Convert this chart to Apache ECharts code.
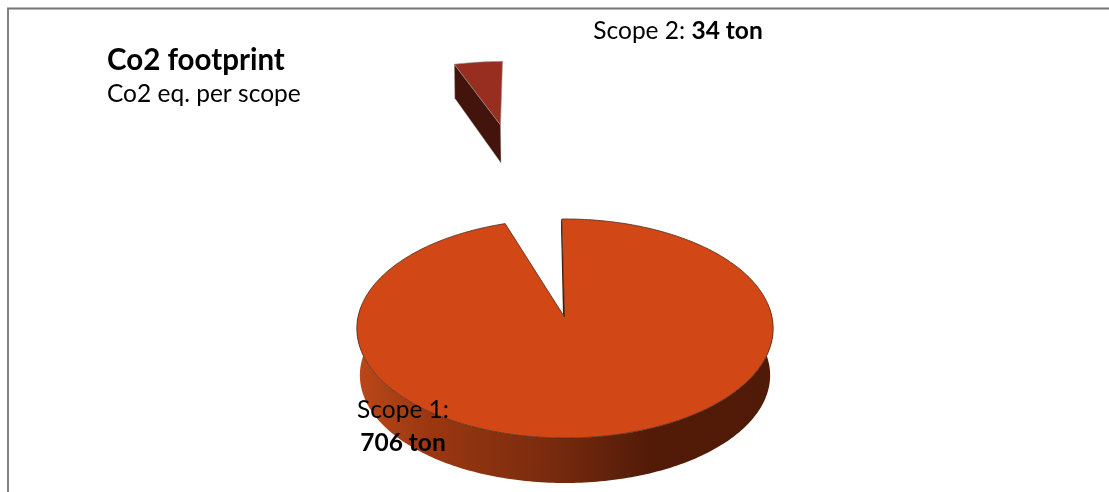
<!DOCTYPE html>
<html><head><meta charset="utf-8">
<style>html,body{margin:0;padding:0;background:#fff}#c{width:1109px;height:492px}</style>
<script src="https://cdn.jsdelivr.net/npm/echarts@6/dist/echarts.min.js"></script>
</head><body><div id="c"></div>
<script>
var categories = ['Scope 1', 'Scope 2'];
var values = [706, 34];
var unit = 'ton';
var titleText = 'Co2 footprint';
var subtitleText = 'Co2 eq. per scope';

var FONT = 'Lato, "Open Sans", sans-serif';
var START_DEG = -1;         // Scope 1 starts here, clockwise from 12 o'clock
var SLICE2_END_DEG = -2;    // Scope 2 ends here
var NOTCH_DEG = 1;          // extra opening left by the exploded slice
var PERSP = 0.105;
// projection of a disc angle onto the page
function proj(g, deg) {
  var t = deg * Math.PI / 180, u = Math.sin(t), v = Math.cos(t), s = 1 / (1 + PERSP * v);
  return [g.cx + g.rx * u * s + (g.skew || 0) * v * s, g.cy - g.ry * v * s];
}
var total = values.reduce(function (a, b) { return a + b; }, 0);

function renderScope1(api) {
  var top = { cx: 565, cy: 317, rx: 207, ry: 108.3 };
  var low = { cx: 565, cy: 364, rx: 204, ry: 106.5 };
  var from = START_DEG, to = START_DEG + api.value(0) / total * 360 - NOTCH_DEG;
  var apex = [top.cx - 0.5, top.cy];
  var face = [apex], wall = [], d;
  for (d = from; d <= to + 1e-6; d += 1) face.push(proj(top, d));
  face.push(proj(top, to));
  var upper = [], lower = [];
  for (d = 84; d <= 276; d += 1) { upper.push(proj(top, d)); lower.push(proj(low, d)); }
  wall = upper.concat(lower.reverse());
  var rimA = proj(top, from);
  return [
    { type: 'polygon', shape: { points: wall }, style: {
        fill: new echarts.graphic.LinearGradient(0, 0, 1, 0, [
          { offset: 0, color: '#bb4719' }, { offset: 0.18, color: '#9a3710' },
          { offset: 0.45, color: '#7b2c0e' }, { offset: 0.7, color: '#521b08' }, { offset: 1, color: '#4f1a07' }]),
        stroke: null } },
    { type: 'polygon', shape: { points: [[apex[0] + 0.5, apex[1] + 2], rimA, [rimA[0] - 0.8, rimA[1] + 3], [apex[0] - 1.5, apex[1] - 3]] },
      style: { fill: '#3d1406' } },
    { type: 'polygon', shape: { points: face }, style: { fill: '#d14715', stroke: '#4f2c1c', lineWidth: 0.8 } }
  ];
}
function renderScope2(api) {
  var g = { cx: 500.5, cy: 125, rx: 168.7 * 1.1, ry: 64 * 1.1, skew: 7.9 * 1.1 };
  var from = SLICE2_END_DEG - api.value(0) / total * 360, to = SLICE2_END_DEG;
  var apex = [g.cx, g.cy], face = [apex], d;
  for (d = from; d < to; d += 1.5) face.push(proj(g, d));
  face.push(proj(g, to));
  var rimL = face[1];
  return [
    { type: 'polygon', shape: { points: [rimL, apex, [apex[0] + 0.5, apex[1] + 38], [rimL[0] + 0.5, rimL[1] + 34]] },
      style: { fill: '#43140c', stroke: '#a8a8a8', lineWidth: 0.4 } },
    { type: 'polygon', shape: { points: face }, style: { fill: '#972e20', stroke: '#8f8f8f', lineWidth: 0.6 } }
  ];
}
function label(i, x, y, sep) {
  return { type: 'text', z2: 20, style: {
    x: x, y: y, align: 'center', verticalAlign: 'middle', fill: '#000',
    text: '{a|' + categories[i] + ':' + sep + '}{b|' + values[i] + ' ' + unit + '}',
    rich: { a: { font: '24.5px ' + FONT, fill: '#000', lineHeight: 33 }, b: { font: 'bold 24.5px ' + FONT, fill: '#000', lineHeight: 33 } }
  } };
}
var chart = echarts.init(document.getElementById('c'), null, { renderer: 'canvas' });
chart.setOption({
  animation: false,
  backgroundColor: '#fff',
  title: { text: titleText, subtext: subtitleText, left: 102, top: 40, itemGap: 7,
    textStyle: { fontFamily: FONT, fontSize: 29.5, fontWeight: 'bold', color: '#000' },
    subtextStyle: { fontFamily: FONT, fontSize: 24.5, color: '#000' } },
  graphic: [{ type: 'polyline', shape: { points: [[8, 492], [8, 8.5], [1109, 8.5]] },
    style: { fill: null, stroke: '#757575', lineWidth: 1.8 } }],
  series: [{
    type: 'custom', coordinateSystem: 'none', clip: false,
    data: values.map(function (v, i) { return { name: categories[i], value: [v] }; }),
    renderItem: function (params, api) {
      var i = params.dataIndex;
      var kids = i === 0 ? renderScope1(api).concat([label(0, 403, 427, '\n')])
                         : renderScope2(api).concat([label(1, 678, 31, ' ')]);
      return { type: 'group', children: kids };
    }
  }]
});
</script></body></html>
